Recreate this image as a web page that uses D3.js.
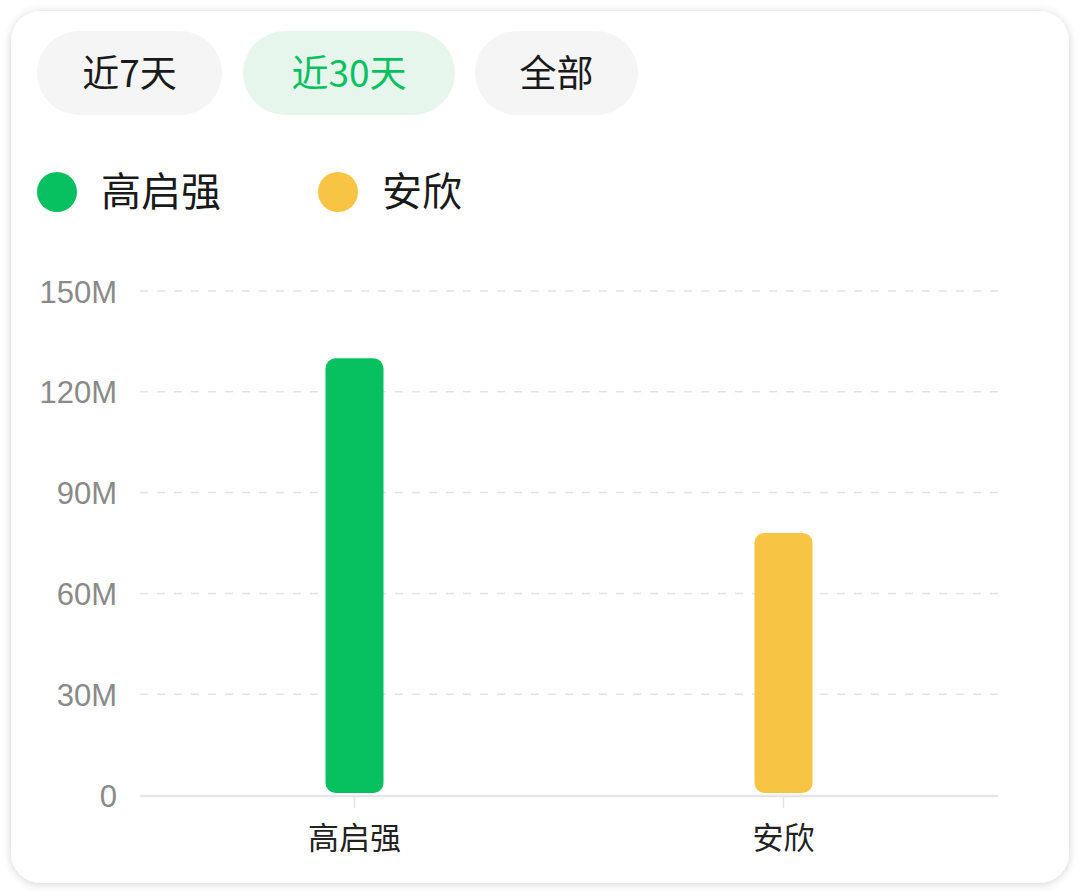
<!DOCTYPE html>
<html><head><meta charset="utf-8">
<script src="https://cdn.jsdelivr.net/npm/d3@7"></script>
<style>
html,body{margin:0;padding:0;background:#fff;}
svg{display:block;}
</style></head>
<body>
<svg id="c" width="1080" height="894"></svg>
<script>
const categories = ["高启强", "安欣"];
const values = [130, 78]; // millions
const colors = ["#07c160", "#f7c444"];
const yTicks = [0, 30, 60, 90, 120, 150];
const tabs = ["近7天", "近30天", "全部"];
const activeTab = 1;

const svg = d3.select("#c");
const defs = svg.append("defs");
const f = defs.append("filter").attr("id","sh").attr("x","-5%").attr("y","-5%").attr("width","110%").attr("height","110%");
f.append("feDropShadow").attr("dx",0).attr("dy",1).attr("stdDeviation",4).attr("flood-color","#000").attr("flood-opacity",0.18);

svg.append("rect").attr("x",11).attr("y",11).attr("width",1058).attr("height",872)
  .attr("rx",30).attr("fill","#fff").attr("filter","url(#sh)");

const cjk = "'Noto Sans CJK SC','Noto Sans',sans-serif";

// tabs
const tabX = [37, 243, 475], tabW = [185, 212, 163];
tabs.forEach((t,i)=>{
  const g = svg.append("g");
  g.append("rect").attr("x",tabX[i]).attr("y",31).attr("width",tabW[i]).attr("height",84).attr("rx",42)
    .attr("fill", i===activeTab ? "#e7f6ec" : "#f5f5f5");
  g.append("text").attr("x",tabX[i]+tabW[i]/2).attr("y",87).attr("text-anchor","middle")
    .attr("font-family",cjk).attr("font-size",37)
    .attr("fill", i===activeTab ? "#07c160" : "#1a1a1a").text(t);
});

// legend
const legX = [57, 338];
categories.forEach((c,i)=>{
  svg.append("circle").attr("cx",legX[i]).attr("cy",192).attr("r",20).attr("fill",colors[i]);
  svg.append("text").attr("x",legX[i]+44).attr("y",206).attr("font-family",cjk).attr("font-size",40)
    .attr("fill","#1a1a1a").text(c);
});

// chart
const x0 = 140, x1 = 998, yTop = 291, yBot = 795;
const x = d3.scaleBand().domain(categories).range([x0,x1]).paddingInner(0).paddingOuter(0);
const y = d3.scaleLinear().domain([0,150]).range([yBot,yTop]);

const grid = svg.append("g");
yTicks.filter(d=>d>0).forEach(d=>{
  grid.append("line").attr("x1",x0).attr("x2",x1).attr("y1",y(d)).attr("y2",y(d))
    .attr("stroke","#e3e3e3").attr("stroke-width",1.5).attr("stroke-dasharray","8,9");
});
const yAxis = svg.append("g").attr("transform",`translate(${x0-23},0)`)
  .call(d3.axisLeft(y).tickValues(yTicks).tickFormat(d=> d===0 ? "0" : d+"M").tickSize(0).tickPadding(0));
yAxis.select(".domain").remove();
yAxis.selectAll("text").attr("font-family","'Liberation Sans',Arial,sans-serif").attr("font-size",31)
  .attr("fill","#8a8a8a").attr("dy","0.36em");

// baseline
svg.append("line").attr("x1",x0).attr("x2",x1).attr("y1",yBot+1).attr("y2",yBot+1)
  .attr("stroke","#e6e6e6").attr("stroke-width",2.5);

const xAxis = svg.append("g").attr("transform",`translate(0,${yBot+2})`)
  .call(d3.axisBottom(x).tickSize(11).tickPadding(19));
xAxis.select(".domain").remove();
xAxis.selectAll("line").attr("stroke","#e3e3e3").attr("stroke-width",1.5);
xAxis.selectAll("text").attr("font-family",cjk).attr("font-size",31).attr("fill","#222");

const bw = 58;
svg.append("g").selectAll("rect").data(categories).join("rect")
  .attr("x",(d)=>x(d)+x.bandwidth()/2-bw/2)
  .attr("y",(d,i)=>y(values[i]))
  .attr("width",bw)
  .attr("height",(d,i)=>yBot-2-y(values[i]))
  .attr("rx",10)
  .attr("fill",(d,i)=>colors[i]);
</script>
</body></html>
